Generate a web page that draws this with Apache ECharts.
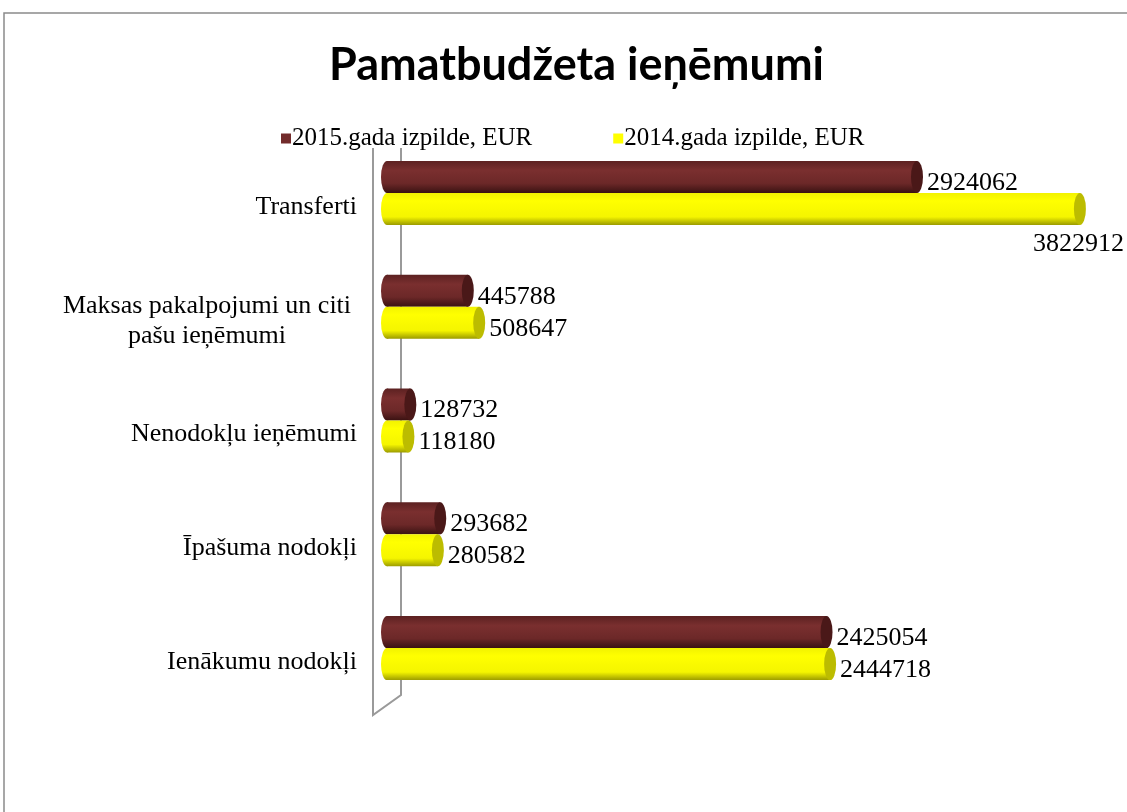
<!DOCTYPE html>
<html>
<head>
<meta charset="utf-8">
<script src="https://cdn.jsdelivr.net/npm/echarts@6/dist/echarts.min.js"></script>
<style>
  html, body { margin: 0; padding: 0; background: #fff; }
  #main { width: 1127px; height: 812px; }
</style>
</head>
<body>
<div id="main"></div>
<script>
// dati
const categories = ['Ienākumu nodokļi', 'Īpašuma nodokļi', 'Nenodokļu ieņēmumi', 'Maksas pakalpojumi un citi\npašu ieņēmumi', 'Transferti'];
const izpilde2015 = [2425054, 293682, 128732, 445788, 2924062];
const izpilde2014 = [2444718, 280582, 118180, 508647, 3822912];
const seriesNames = ['2015.gada izpilde, EUR', '2014.gada izpilde, EUR'];

let chart = echarts.init(document.getElementById('main'));

function grad(stops) {
  return new echarts.graphic.LinearGradient(0, 0, 0, 1, stops);
}
const darkBody = grad([
  { offset: 0, color: '#5c2121' },
  { offset: 0.3, color: '#7a2f2f' },
  { offset: 0.7, color: '#6c2828' },
  { offset: 1, color: '#3a1212' }
]);
const yellowBody = grad([
  { offset: 0, color: '#f2f200' },
  { offset: 0.25, color: '#ffff00' },
  { offset: 0.75, color: '#f5f500' },
  { offset: 1, color: '#9c9c00' }
]);

const labelFont = { fontFamily: 'Liberation Serif', fontSize: 26, color: '#000' };

// label of the longest bar sits below its end
const yellowData = izpilde2014.map(function (v, i) {
  if (i === 4) {
    return { value: v, label: { offset: [-57, 35] } };
  }
  return v;
});

const common = { barWidth: 32, barGap: '0%' };
// caps: all pictorial series on one slot, moved up/down by hand
const capCommon = { barWidth: 32, barGap: '-100%', type: 'pictorialBar', z: 3, symbol: 'circle', symbolSize: [12, 32] };

let option = {
  animation: false,
  title: {
    text: 'Pamatbudžeta ieņēmumi',
    left: 324,
    top: 38,
    textStyle: { fontFamily: 'Lato', fontWeight: 'bold', fontSize: 45, color: '#000' }
  },
  legend: {
    top: 121,
    left: 276,
    itemGap: 81,
    itemWidth: 10,
    itemHeight: 10,
    icon: 'rect',
    textStyle: { fontFamily: 'Liberation Serif', fontSize: 25, color: '#000', padding: [0, 0, 0, -4] },
    data: [
      { name: seriesNames[0], itemStyle: { color: '#722b2b' } },
      { name: seriesNames[1], itemStyle: { color: '#ffff00' } }
    ]
  },
  grid: { left: 387, width: 725, top: 136, bottom: 107, containLabel: false },
  xAxis: {
    type: 'value',
    min: 0,
    max: 4000000,
    show: false
  },
  yAxis: {
    type: 'category',
    data: categories,
    axisLine: { show: false },
    axisTick: { show: false },
    axisLabel: {
      margin: 30,
      fontFamily: 'Liberation Serif',
      fontSize: 26,
      color: '#000',
      lineHeight: 30,
      padding: [28, 0, 0, 0],
      formatter: function (v) {
        return v.indexOf('\n') >= 0 ? '{m|' + v + '}' : v;
      },
      rich: {
        m: { fontFamily: 'Liberation Serif', fontSize: 26, color: '#000', lineHeight: 30, width: 300, align: 'center' }
      }
    }
  },
  graphic: [
    {
      type: 'polyline',
      z: 0,
      shape: { points: [[373, 148], [373, 715], [401, 695], [401, 148]] },
      style: { fill: null, stroke: '#9a9a9a', lineWidth: 2 }
    },
    {
      type: 'rect',
      z: 0,
      shape: { x: 4, y: 13, width: 1300, height: 1000 },
      style: { fill: null, stroke: '#8a8a8a', lineWidth: 1.5 }
    }
  ],
  series: [
    Object.assign({
      name: seriesNames[0],
      type: 'bar',
      data: izpilde2015,
      itemStyle: { color: darkBody },
      label: Object.assign({ show: true, position: 'right', distance: 10, offset: [0, 6] }, labelFont)
    }, common),
    Object.assign({
      name: seriesNames[1],
      type: 'bar',
      data: yellowData,
      itemStyle: { color: yellowBody },
      label: Object.assign({ show: true, position: 'right', distance: 10, offset: [0, 6] }, labelFont)
    }, common),
    // cilindru gali
    Object.assign({
      name: 'start2015', data: izpilde2015,
      symbolPosition: 'start', symbolOffset: ['-50%', -16],
      itemStyle: { color: darkBody }
    }, capCommon),
    Object.assign({
      name: 'start2014', data: izpilde2014,
      symbolPosition: 'start', symbolOffset: ['-50%', 16],
      itemStyle: { color: yellowBody }
    }, capCommon),
    Object.assign({
      name: 'end2015', data: izpilde2015,
      symbolPosition: 'end', symbolOffset: ['50%', -16],
      itemStyle: { color: '#4a1818' }
    }, capCommon),
    Object.assign({
      name: 'end2014', data: izpilde2014,
      symbolPosition: 'end', symbolOffset: ['50%', 16],
      itemStyle: { color: '#bcbc00' }
    }, capCommon)
  ]
};

chart.setOption(option);
</script>
</body>
</html>
